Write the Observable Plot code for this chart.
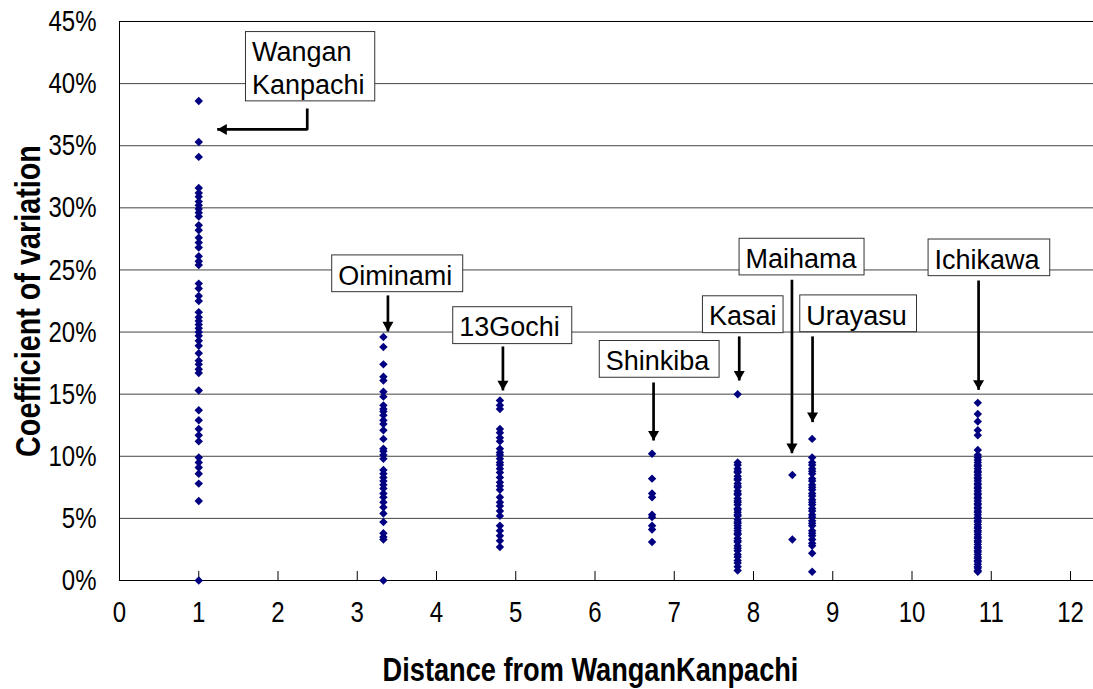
<!DOCTYPE html>
<html>
<head>
<meta charset="utf-8">
<script src="https://cdn.jsdelivr.net/npm/d3@7"></script>
<script src="https://cdn.jsdelivr.net/npm/@observablehq/plot@0.6"></script>
<style>
  html, body { margin: 0; padding: 0; background: #fff; }
  #chart svg { display: block; }
</style>
</head>
<body>
<div id="chart"></div>
<script>
// Stations along the line and their distance from Wangan Kanpachi
const stations = ["Wangan Kanpachi", "Oiminami", "13Gochi", "Shinkiba", "Kasai", "Maihama", "Urayasu", "Ichikawa"];
const distances = [1.0, 3.33, 4.80, 6.72, 7.80, 8.49, 8.74, 10.83];

// Coefficient of variation (%) observed at each station
const cvWanganKanpachi = [38.6, 35.3, 34.1, 31.6, 31.2, 30.9, 30.5, 30.2, 29.9, 29.6, 29.3, 28.6, 28.2,
  27.6, 27.2, 26.8, 26.1, 25.7, 25.4, 23.9, 23.5, 22.9, 22.5, 21.6, 21.2, 20.9, 20.6, 20.3, 20.0, 19.7,
  19.3, 18.9, 18.3, 17.7, 17.4, 17.0, 16.7, 15.3, 13.7, 12.9, 12.2, 11.7, 11.2, 9.9, 9.5, 9.1, 8.6, 7.8, 6.4, 0];
const cvOiminami = [19.6, 18.8, 17.4, 16.4, 16.1, 15.2, 14.8, 14.1, 13.8, 13.6, 13.3, 12.9, 12.6, 12.1, 11.4,
  10.6, 10.4, 10.1, 9.8, 8.9, 8.6, 8.3, 8.0, 7.7, 7.4, 7.0, 6.7, 6.3, 5.9, 5.4, 4.7, 3.8, 3.5, 3.3, 0];
const cv13Gochi = [14.5, 14.1, 13.8, 12.2, 11.9, 11.5, 11.2, 10.6, 10.3, 10.1, 9.8, 9.5, 9.3, 9.0, 8.7, 8.3,
  7.9, 7.6, 7.3, 6.7, 6.3, 6.0, 5.6, 5.2, 4.4, 4.0, 3.6, 3.2, 2.7];
const cvShinkiba = [10.2, 8.2, 7.0, 6.7, 5.3, 5.1, 4.4, 4.1, 3.1];
const cvKasai = [15.0, 9.5, 9.3, 9.0, 8.8, 8.7, 8.4, 8.2, 8.1, 7.8, 7.6, 7.5, 7.2, 7.0, 6.9, 6.6, 6.4, 6.3,
  6.1, 5.8, 5.7, 5.5, 5.3, 5.2, 4.9, 4.7, 4.6, 4.4, 4.2, 4.0, 3.8, 3.7, 3.4, 3.2, 3.1, 2.8, 2.6, 2.4, 2.1,
  1.9, 1.6, 1.4, 1.1, 0.8];
const cvMaihama = [8.5, 3.3];
const cvUrayasu = [11.4, 9.9, 9.5, 9.3, 9.0, 8.8, 8.6, 8.2, 8.0, 7.7, 7.5, 7.3, 7.0, 6.8, 6.5, 6.3, 6.1, 5.8,
  5.6, 5.3, 5.1, 4.8, 4.6, 4.4, 4.0, 3.8, 3.6, 3.3, 3.0, 2.8, 2.2, 0.7];
const cvIchikawa = [14.3, 13.4, 12.8, 12.1, 11.7, 10.5, 10.1, 9.9, 9.7, 9.5, 9.3, 9.2, 9.0, 8.8, 8.7, 8.5,
  8.3, 8.2, 8.0, 7.8, 7.7, 7.5, 7.4, 7.2, 7.0, 6.9, 6.7, 6.6, 6.4, 6.2, 6.1, 5.9, 5.8, 5.6, 5.5, 5.3, 5.1,
  5.0, 4.8, 4.7, 4.5, 4.3, 4.2, 4.0, 3.9, 3.7, 3.5, 3.4, 3.2, 3.1, 2.9, 2.7, 2.6, 2.4, 2.3, 2.1, 1.9, 1.8,
  1.6, 1.5, 1.3, 1.1, 1.0, 0.8, 0.7];
const cvSeries = [cvWanganKanpachi, cvOiminami, cv13Gochi, cvShinkiba, cvKasai, cvMaihama, cvUrayasu, cvIchikawa];

// Axis ticks and titles
const xTicks = [0, 1, 2, 3, 4, 5, 6, 7, 8, 9, 10, 11, 12];
const yTicks = [0, 5, 10, 15, 20, 25, 30, 35, 40, 45];
const xTitle = "Distance from WanganKanpachi";
const yTitle = "Coefficient of variation";

// Station callouts: label box extent (distance / % units)
const callouts = [
  {label: "Wangan\nKanpachi", bx1: 1.596, bx2: 3.227, by1: 38.57, by2: 44.15},
  {label: "Oiminami", bx1: 2.684, bx2: 4.337, by1: 23.21, by2: 26.17},
  {label: "13Gochi",  bx1: 4.211, bx2: 5.713, by1: 19.03, by2: 22.00},
  {label: "Shinkiba", bx1: 6.060, bx2: 7.572, by1: 16.32, by2: 19.28},
  {label: "Kasai",    bx1: 7.362, bx2: 8.379, by1: 19.91, by2: 22.88},
  {label: "Maihama",  bx1: 7.824, bx2: 9.401, by1: 24.56, by2: 27.51},
  {label: "Urayasu",  bx1: 8.590, bx2: 10.063, by1: 19.99, by2: 22.95},
  {label: "Ichikawa", bx1: 10.209, bx2: 11.744, by1: 24.50, by2: 27.45}
];
// Arrow paths; the last point of each path is the arrow tip
const arrowPaths = [
  {id: "Wangan Kanpachi", pts: [[2.369, 38.0], [2.369, 36.31], [1.233, 36.31]], dir: "left"},
  {id: "Oiminami", pts: [[3.387, 22.95], [3.387, 20.05]], dir: "down"},
  {id: "13Gochi",  pts: [[4.838, 18.84], [4.838, 15.30]], dir: "down"},
  {id: "Shinkiba", pts: [[6.739, 15.94], [6.739, 11.27]], dir: "down"},
  {id: "Kasai",    pts: [[7.820, 19.65], [7.820, 16.10]], dir: "down"},
  {id: "Maihama",  pts: [[8.485, 24.21], [8.485, 10.25]], dir: "down"},
  {id: "Urayasu",  pts: [[8.745, 19.65], [8.745, 12.75]], dir: "down"},
  {id: "Ichikawa", pts: [[10.840, 24.15], [10.840, 15.35]], dir: "down"}
];

const rows = stations.flatMap((s, i) => cvSeries[i].map(v => ({station: s, distance: distances[i], cv: v})));
const arrowPoints = arrowPaths.flatMap(a => a.pts.map(([x, y]) => ({id: a.id, x, y})));
const tipOf = a => ({id: a.id, x: a.pts[a.pts.length - 1][0], y: a.pts[a.pts.length - 1][1]});
const tipsDown = arrowPaths.filter(a => a.dir === "down").map(tipOf);
const tipsLeft = arrowPaths.filter(a => a.dir === "left").map(tipOf);

const sans = "'Liberation Sans', Arial, Helvetica, sans-serif";

const chart = Plot.plot({
  width: 1093,
  height: 689,
  marginTop: 21,
  marginBottom: 109,
  marginLeft: 119,
  marginRight: 0,
  style: {fontFamily: sans, background: "#fff", color: "#000", overflow: "visible"},
  x: {domain: [0, 12.29]},
  y: {domain: [0, 45]},
  marks: [
    // gridlines and frame
    Plot.ruleY(yTicks.filter(t => t > 0 && t < 45), {stroke: "#444", strokeWidth: 1}),
    Plot.ruleY([0, 45], {stroke: "#000", strokeWidth: 1}),
    Plot.ruleX([0], {stroke: "#000", strokeWidth: 1}),
    // inward tick marks on the distance axis
    Plot.ruleX(xTicks.slice(1), {y1: 0, y2: 0.72, stroke: "#000", strokeWidth: 1}),
    Plot.axisY({ticks: yTicks, tickSize: 0, tickPadding: 23, tickFormat: d => d + "%", fontSize: 30, label: null}),
    Plot.axisX({ticks: xTicks, tickSize: 0, tickPadding: 20, tickFormat: d => String(d), fontSize: 30, label: null}),
    // axis titles
    Plot.text([xTitle], {text: d => d, frameAnchor: "bottom", dx: -16, dy: 90,
      lineAnchor: "middle", textAnchor: "middle", fontSize: 34, fontWeight: "bold"}),
    Plot.text([yTitle], {text: d => d, frameAnchor: "left", dx: -91, rotate: -90,
      lineAnchor: "middle", textAnchor: "middle", fontSize: 36, fontWeight: "bold"}),
    // observations
    Plot.dot(rows, {x: "distance", y: "cv", symbol: "diamond2", r: 3.8, fill: "#000080", stroke: null}),
    // callout boxes
    Plot.rect(callouts, {x1: "bx1", x2: "bx2", y1: "by1", y2: "by2", fill: "#fff", stroke: "#333", strokeWidth: 1}),
    Plot.text(callouts, {x: "bx1", y: d => (d.by1 + d.by2) / 2, text: "label", textAnchor: "start", dx: 6,
      lineAnchor: "middle", lineHeight: 1.24, fontSize: 27, fill: "#000"}),
    // arrows
    Plot.line(arrowPoints, {x: "x", y: "y", z: "id", stroke: "#000", strokeWidth: 2.7, strokeLinejoin: "miter", strokeLinecap: "butt"}),
    Plot.dot(tipsDown, {x: "x", y: "y", symbol: "triangle", r: 4.1, rotate: 180, dy: -6.4, fill: "#000", stroke: null}),
    Plot.dot(tipsLeft, {x: "x", y: "y", symbol: "triangle", r: 4.1, rotate: -90, dx: 6.4, fill: "#000", stroke: null})
  ]
});

// Axis lettering is set in a condensed face: squeeze each label horizontally about its anchor
const squeeze = 0.8;
const narrowTexts = [
  ...chart.querySelectorAll('g[aria-label="x-axis tick label"] text'),
  ...chart.querySelectorAll('g[aria-label="y-axis tick label"] text'),
  ...[...chart.querySelectorAll("text")].filter(t => t.textContent === xTitle || t.textContent === yTitle)
];
narrowTexts.forEach(t => {
  const tr = t.getAttribute("transform");
  if (tr) {
    t.setAttribute("transform", tr + ` scale(${squeeze},1)`);
  } else {
    const x = +(t.getAttribute("x") || 0), y = +(t.getAttribute("y") || 0);
    t.removeAttribute("x"); t.removeAttribute("y");
    t.setAttribute("transform", `translate(${x},${y}) scale(${squeeze},1)`);
  }
});

document.getElementById("chart").appendChild(chart);
</script>
</body>
</html>
